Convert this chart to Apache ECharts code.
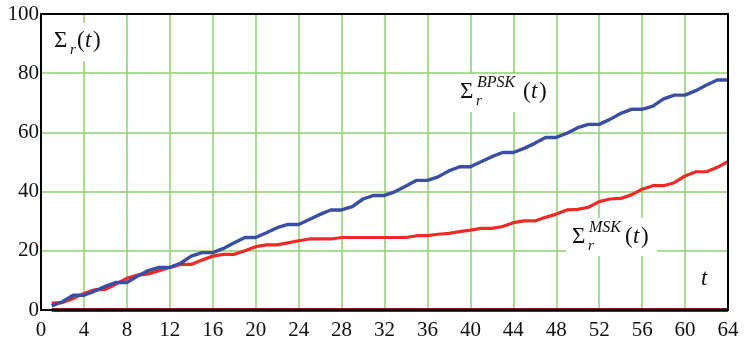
<!DOCTYPE html>
<html><head><meta charset="utf-8">
<script src="https://cdn.jsdelivr.net/npm/echarts@6/dist/echarts.min.js"></script>
<style>html,body{margin:0;padding:0;background:#fff}#c{width:745px;height:339px}</style>
</head><body><div id="c"></div>
<script>
var tValues = [];
for (var i = 1; i <= 64; i++) tValues.push(i);
var xTicks = [0,4,8,12,16,20,24,28,32,36,40,44,48,52,56,60,64];
var yTicks = [0,20,40,60,80,100];
var bpsk = [1.4,2.8,5.0,5.0, 6.4,8.0,9.3,9.3, 11.5,13.3,14.4,14.4, 15.8,18.2,19.4,19.4,
  20.8,22.7,24.5,24.5, 26.1,27.8,28.9,28.9, 30.6,32.3,33.8,33.8, 34.9,37.5,38.7,38.7,
  40.0,41.9,43.8,43.8, 45.0,47.0,48.4,48.4, 50.1,51.8,53.2,53.2, 54.6,56.3,58.3,58.3,
  59.7,61.6,62.7,62.7, 64.4,66.4,67.8,67.8, 68.9,71.3,72.6,72.6, 74.1,76.0,77.7,77.7];
var msk = [2.3,2.5,3.9,5.6, 6.8,7.0,8.8,10.7, 11.8,12.2,13.3,14.4, 15.4,15.4,16.9,18.2,
  18.8,18.8,20.0,21.4, 22.0,22.0,22.7,23.4, 24.0,24.0,24.0,24.5, 24.5,24.5,24.5,24.5,
  24.5,24.5,25.1,25.1, 25.6,25.9,26.5,27.0, 27.6,27.6,28.2,29.5, 30.1,30.1,31.3,32.4,
  33.8,34.0,34.7,36.6, 37.5,37.7,38.9,40.8, 42.0,42.0,43.0,45.3, 46.7,46.7,48.2,50.1];
var zeroLine = [0,0,0,0,0,0,0,0,0,0,0,0,0,0,0,0,0,0,0,0,0,0,0,0,0,0,0,0,0,0,0,0,
  0,0,0,0,0,0,0,0,0,0,0,0,0,0,0,0,0,0,0,0,0,0,0,0,0,0,0,0,0,0,0,0];

function pairs(vals){ return vals.map(function(v,i){ return [tValues[i], v]; }); }

var FONT = "'Liberation Serif', 'Times New Roman', Times, 'DejaVu Serif', serif";
function txt(x, y, s, size, italic){
  return { type:'text', z:100, style:{ x:x, y:y, text:s, fill:'#111',
    font:(italic?'italic ':'') + size + 'px ' + FONT,
    align:'left', verticalAlign:'middle' } };
}
function sigmaLabel(x0, y0, sup, parenX, box){
  var els = [];
  if (box) els.push({ type:'rect', z:99, shape:box, style:{ fill:'#fff' } });
  els.push(txt(x0, y0, 'Σ', 23, false));
  els.push(txt(x0+16, y0+9, 'r', 15, true));
  if (sup) els.push(txt(x0+17, y0-9, sup, 16, true));
  els.push(txt(parenX, y0, '(', 23, false));
  els.push(txt(parenX+8, y0, 't', 23, true));
  els.push(txt(parenX+16, y0, ')', 23, false));
  return els;
}

var chart = echarts.init(document.getElementById('c'), null, {renderer:'canvas'});
var graphics = []
  .concat(sigmaLabel(54, 41, null, 77, {x:50,y:23,width:56,height:38}))
  .concat(sigmaLabel(460, 92, 'BPSK', 523, {x:455,y:74,width:95,height:38}))
  .concat(sigmaLabel(572, 237, 'MSK', 625, {x:566,y:218,width:91,height:38}));
graphics.push(txt(701, 279, 't', 23, true));

chart.setOption({
  animation:false,
  backgroundColor:'#fff',
  grid:{ left:41, right:17, top:14, bottom:29, show:true, borderColor:'#000', borderWidth:2,
    backgroundColor:'transparent', z:10, containLabel:false, outerBoundsMode:'none' },
  xAxis:{ type:'value', min:0, max:64, interval:4,
    axisLine:{ show:true, lineStyle:{ color:'#000', width:2 } },
    axisTick:{ show:false },
    axisLabel:{ fontFamily:FONT, fontSize:21, color:'#111', margin:10,
      formatter:function(v){ return xTicks.indexOf(v) >= 0 ? String(v) : ''; } },
    splitLine:{ show:true, showMinLine:false, showMaxLine:false, lineStyle:{ color:'#8fd070', width:1.5 } } },
  yAxis:{ type:'value', min:0, max:100, interval:20,
    axisLine:{ show:true, lineStyle:{ color:'#000', width:2 } },
    axisTick:{ show:false },
    axisLabel:{ fontFamily:FONT, fontSize:21, color:'#111', margin:2, padding:[6,0,0,0],
      formatter:function(v){ return yTicks.indexOf(v) >= 0 ? String(v) : ''; } },
    splitLine:{ show:true, showMinLine:false, showMaxLine:false, lineStyle:{ color:'#8fd070', width:1.5 } } },
  graphic: graphics,
  series:[
    { type:'line', data:pairs(msk), showSymbol:false, symbol:'none', clip:false, z:3,
      lineStyle:{ color:'#ee2a26', width:3.2 } },
    { type:'line', data:pairs(bpsk), showSymbol:false, symbol:'none', clip:false, z:4,
      lineStyle:{ color:'#3a4ea3', width:3.4 } },
    { type:'line', data:pairs(zeroLine), showSymbol:false, symbol:'none', clip:false, z:5,
      lineStyle:{ color:'#7b1f1f', width:4 } }
  ]
});
</script></body></html>
